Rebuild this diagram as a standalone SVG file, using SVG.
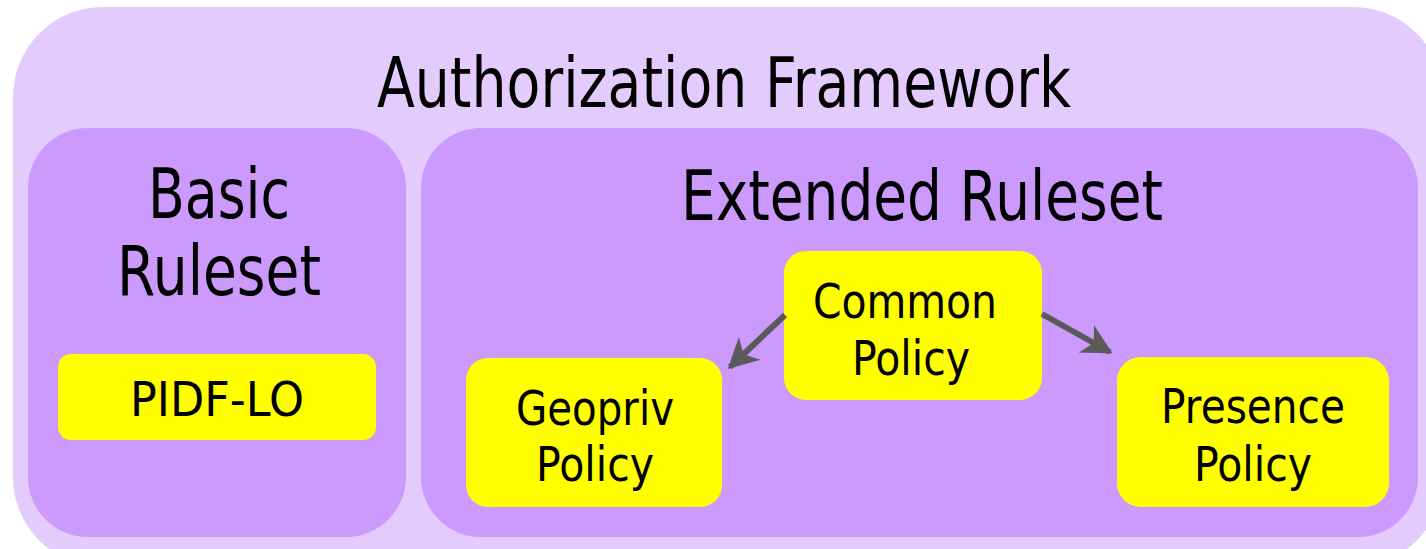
<svg xmlns="http://www.w3.org/2000/svg" width="1426" height="549" viewBox="0 0 1426 549">
  <style>
    .outer { fill: #e3cbfd; }
    .group { fill: #cc99fc; }
    .box { fill: #ffff00; }
    .lbl { font-family: "DejaVu Sans", Verdana, sans-serif; fill: #000; text-anchor: middle; }
    .big { font-size: 70px; }
    .mid { font-size: 48px; }
    .conn { stroke: #5a5a5a; stroke-width: 6; fill: none; marker-end: url(#arrow); }
  </style>
  <defs>
    <marker id="arrow" markerWidth="6" markerHeight="6" refX="4.5" refY="3" orient="auto" markerUnits="strokeWidth">
      <path d="M0,0.4 L5,3 L0,5.6 L1.4,3 Z" fill="#5a5a5a"/>
    </marker>
  </defs>

  <g id="authorization-framework">
    <rect class="outer" x="13" y="7" width="1430" height="560" rx="90"/>
    <text class="lbl big" x="724" y="107" textLength="694" lengthAdjust="spacingAndGlyphs">Authorization Framework</text>
  </g>

  <g id="basic-ruleset">
    <rect class="group" x="28" y="128" width="378" height="409" rx="60"/>
    <text class="lbl big" x="219" y="218" textLength="142" lengthAdjust="spacingAndGlyphs">Basic</text>
    <text class="lbl big" x="219" y="295" textLength="204" lengthAdjust="spacingAndGlyphs">Ruleset</text>
  </g>

  <g id="extended-ruleset">
    <rect class="group" x="421" y="128" width="997" height="409" rx="60"/>
    <text class="lbl big" x="922" y="220" textLength="482" lengthAdjust="spacingAndGlyphs">Extended Ruleset</text>
  </g>

  <g id="pidf-lo">
    <rect class="box" x="58" y="354" width="318" height="86" rx="13"/>
    <text class="lbl mid" x="217" y="416" textLength="174" lengthAdjust="spacingAndGlyphs">PIDF-LO</text>
  </g>

  <g id="common-policy">
    <rect class="box" x="784" y="251" width="258" height="149" rx="22"/>
    <text class="lbl mid" x="905" y="318" textLength="184" lengthAdjust="spacingAndGlyphs">Common</text>
    <text class="lbl mid" x="911" y="375" textLength="118" lengthAdjust="spacingAndGlyphs">Policy</text>
  </g>

  <g id="geopriv-policy">
    <rect class="box" x="466" y="358" width="256" height="149" rx="22"/>
    <text class="lbl mid" x="595" y="425" textLength="158" lengthAdjust="spacingAndGlyphs">Geopriv</text>
    <text class="lbl mid" x="595" y="481" textLength="118" lengthAdjust="spacingAndGlyphs">Policy</text>
  </g>

  <g id="presence-policy">
    <rect class="box" x="1117" y="357" width="272" height="150" rx="24"/>
    <text class="lbl mid" x="1253" y="423" textLength="184" lengthAdjust="spacingAndGlyphs">Presence</text>
    <text class="lbl mid" x="1253" y="481" textLength="118" lengthAdjust="spacingAndGlyphs">Policy</text>
  </g>

  <g id="connectors">
    <line class="conn" x1="785" y1="315" x2="730" y2="367"/>
    <line class="conn" x1="1042" y1="314" x2="1110" y2="352"/>
  </g>
</svg>
